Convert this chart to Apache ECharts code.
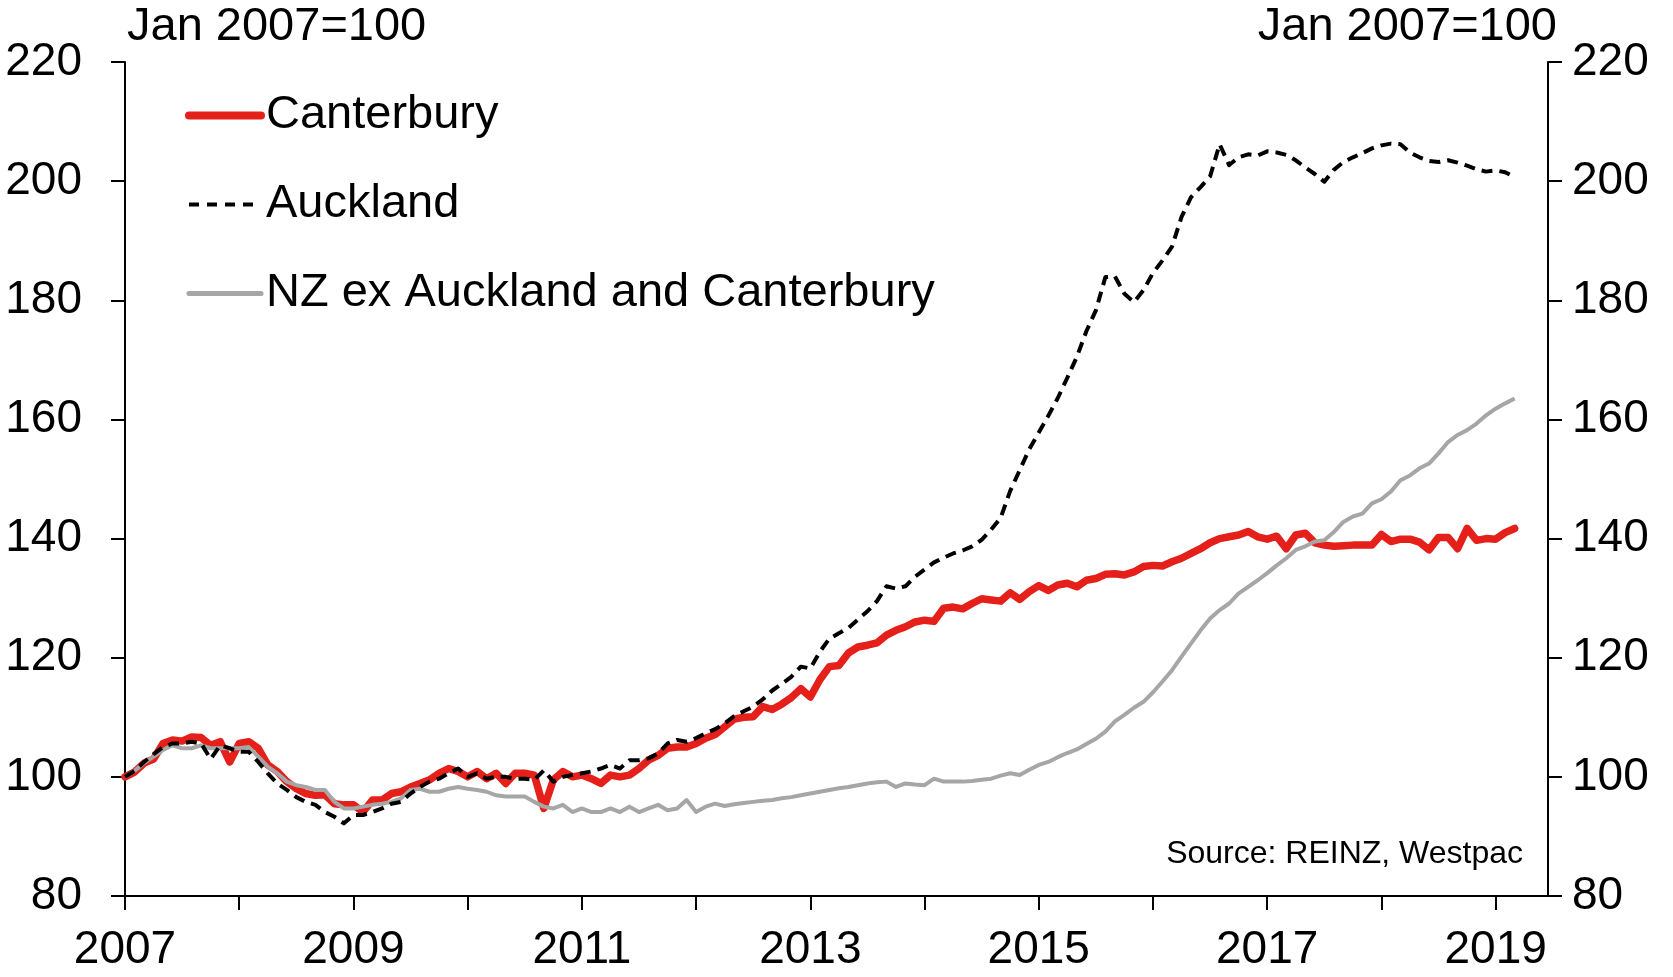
<!DOCTYPE html>
<html>
<head>
<meta charset="utf-8">
<script src="https://cdn.jsdelivr.net/npm/echarts@6.0.0/dist/echarts.min.js"></script>
<style>
  html, body { margin: 0; padding: 0; background: #fff; }
  #chart { width: 1673px; height: 977px; }
</style>
</head>
<body>
<div id="chart"></div>
<script>
// Monthly index values, Jan 2007 = 100, Jan 2007 .. Mar 2019
const startYear = 2007;
const canterbury = [100,100.8,102.3,103,105.6,106.2,106,106.7,106.6,105.3,
105.9,102.5,105.6,105.9,104.8,102,100.9,99.2,98,97.2,
96.9,97,95.5,95.3,95.3,94.1,96.1,96.1,97.2,97.5,
98.3,98.9,99.5,100.6,101.4,100.9,100,100.9,99.7,100.6,
98.9,100.6,100.6,100.3,94.7,99.5,100.9,100,100.3,99.7,
98.9,100.3,100,100.3,101.4,102.8,103.6,104.8,105,105,
105.6,106.5,107.1,108.4,109.7,110,110.1,111.8,111.3,112.2,
113.3,114.8,113.4,116.3,118.5,118.7,120.8,121.8,122.1,122.5,
123.8,124.6,125.2,126,126.3,126.1,128.3,128.5,128.2,129.1,
129.9,129.7,129.5,130.9,129.8,131.1,132.1,131.3,132.2,132.5,
131.9,133,133.3,134,134.1,133.9,134.4,135.3,135.5,135.4,
136.1,136.7,137.5,138.3,139.3,140,140.3,140.6,141.2,140.3,
139.9,140.4,138.3,140.6,140.9,139.3,138.9,138.7,138.8,138.9,
138.9,138.9,140.7,139.5,139.9,139.9,139.4,138.1,140.2,140.2,
138.3,141.7,139.7,140,139.9,141,141.7];

const auckland = [100,101,102.5,103.8,105,105.6,105.6,105.9,105.6,103,
105.3,104.8,104.2,104.2,102.5,100.6,98.9,97.8,96.6,95.8,
95.3,94.1,93.3,92.2,93.6,93.6,94.1,94.7,95.5,95.8,
97.2,98.3,99.2,99.7,100.6,101.4,100,100.6,99.7,100,
100,99.7,99.7,99.5,101.1,99.2,100,100.3,100.6,100.9,
101.4,102,101.4,102.8,102.8,103.1,103.9,105.6,106.2,105.9,
106.5,107.3,108,109,110.2,111,111.8,113,114.5,115.6,
116.8,118.5,118.2,121,123.2,124.1,125,126.4,127.8,129.5,
132,131.6,132,133.6,134.8,136,136.8,137.5,138,138.7,
139.8,141.5,143.5,148,151.5,155,157.8,160.6,163.6,167,
170.5,174.8,178.3,183.9,184,181.1,179.7,181.7,184.6,186.7,
189,194,197.3,199,200.8,206.2,202.7,204,204.5,204.3,
205,204.8,204.4,203.5,202.3,201.2,199.9,201.9,203.2,204,
204.7,205.5,206,206.3,206.2,204.8,204,203.4,203.2,203.5,
203.1,202.6,202,201.6,201.8,201.5,200.7];

const nzExAklCant = [100,101,102.3,103.4,104.5,105.3,104.8,104.8,105.3,104.8,
104.8,104.8,104.8,105,103.4,101.7,100.6,99.2,98.6,98.3,
97.8,97.8,95.8,94.7,94.7,95,95.3,95.5,95.8,96.4,
97.8,98,97.5,97.5,98,98.3,98,97.8,97.5,96.9,
96.7,96.7,96.7,95.8,95,94.7,95.3,94.1,94.7,94.1,
94.1,94.7,94.1,95,94.1,94.7,95.3,94.4,94.7,96.1,
94.1,95,95.5,95.1,95.4,95.6,95.8,96,96.1,96.4,
96.6,96.9,97.2,97.5,97.8,98.1,98.3,98.6,98.9,99.1,
99.2,98.3,98.9,98.7,98.6,99.7,99.2,99.2,99.2,99.3,
99.5,99.7,100.2,100.6,100.3,101.2,102,102.5,103.3,104,
104.6,105.5,106.4,107.6,109.3,110.4,111.6,112.6,114.2,116,
117.9,120.2,122.4,124.6,126.6,128,129.1,130.8,131.9,133,
134.2,135.5,136.7,138.1,138.7,139.5,139.7,141.1,142.8,143.7,
144.2,145.9,146.6,147.9,149.8,150.6,151.8,152.6,154.3,156.2,
157.4,158.2,159.3,160.7,161.8,162.7,163.5];

const seriesNames = ['Canterbury', 'Auckland', 'NZ ex Auckland and Canterbury'];
const xTickYears = [2007,2008,2009,2010,2011,2012,2013,2014,2015,2016,2017,2018,2019];
const xLabelYears = [2007,2009,2011,2013,2015,2017,2019];
const yTicks = [80,100,120,140,160,180,200,220];
const unitTitle = 'Jan 2007=100';
const sourceText = 'Source: REINZ, Westpac';

const toPairs = arr => arr.map((v, i) => [startYear + i / 12, v]);

const RED = '#E5201A', GREY = '#A6A6A6', BLACK = '#000';
const FONT = '"Liberation Sans", Arial, sans-serif';
const chart = echarts.init(document.getElementById('chart'), null, { renderer: 'canvas' });

const yAxisCommon = {
  type: 'value', min: yTicks[0], max: yTicks[yTicks.length - 1], interval: 20,
  axisLine: { show: true, lineStyle: { color: '#000', width: 2 } },
  axisTick: { show: true, inside: false, length: 14, lineStyle: { color: '#000', width: 2 } },
  splitLine: { show: false },
  axisLabel: { color: '#000', fontSize: 46, fontFamily: FONT, lineHeight: 46 }
};

chart.setOption({
  animation: false,
  backgroundColor: '#fff',
  textStyle: { fontFamily: FONT },
  grid: { left: 125, right: 125, top: 62, bottom: 81, containLabel: false, outerBoundsMode: 'none' },
  title: [
    { text: unitTitle, left: 127, top: 4, padding: 0,
      textStyle: { fontSize: 47, fontWeight: 'normal', color: '#000', fontFamily: FONT, lineHeight: 47 } },
    { text: unitTitle, right: 116, top: 4, padding: 0,
      textStyle: { fontSize: 47, fontWeight: 'normal', color: '#000', fontFamily: FONT, lineHeight: 47 } }
  ],
  legend: {
    orient: 'vertical', left: 185, top: 92, padding: 0, itemGap: 42,
    itemWidth: 72, itemHeight: 10,
    data: [
      { name: seriesNames[0], itemStyle: { opacity: 0 }, lineStyle: { color: RED, width: 8, cap: 'round' } },
      { name: seriesNames[1], itemStyle: { opacity: 0 }, lineStyle: { color: BLACK, width: 4, type: [10, 8] } },
      { name: seriesNames[2], itemStyle: { opacity: 0 }, lineStyle: { color: GREY, width: 5, cap: 'round' } }
    ],
    textStyle: { fontSize: 47, color: '#000', fontFamily: FONT, lineHeight: 47 },
    selectedMode: false
  },
  xAxis: {
    type: 'value', min: startYear, max: 2019 + 5.5 / 12,
    axisLine: { show: true, onZero: false, lineStyle: { color: '#000', width: 2 } },
    axisTick: { show: true, length: 14, customValues: xTickYears, lineStyle: { color: '#000', width: 2 } },
    splitLine: { show: false },
    axisLabel: { color: '#000', fontSize: 46, fontFamily: FONT, lineHeight: 46, margin: 31,
      customValues: xLabelYears, formatter: v => String(Math.round(v)) }
  },
  yAxis: [
    Object.assign({}, yAxisCommon, { position: 'left', axisLabel: Object.assign({}, yAxisCommon.axisLabel, { margin: 43 }) }),
    Object.assign({}, yAxisCommon, { position: 'right', axisLabel: Object.assign({}, yAxisCommon.axisLabel, { margin: 24 }) })
  ],
  graphic: [{
    type: 'text', right: 150, top: 838, z: 10,
    style: { text: sourceText, fontSize: 32, fontFamily: FONT, fill: '#000', textAlign: 'right' }
  }],
  series: [
    { name: seriesNames[0], type: 'line', data: toPairs(canterbury), symbol: 'none', showSymbol: false, z: 2,
      lineStyle: { color: RED, width: 7.5, join: 'round', cap: 'round' }, itemStyle: { color: RED } },
    { name: seriesNames[2], type: 'line', data: toPairs(nzExAklCant), symbol: 'none', showSymbol: false, z: 3,
      lineStyle: { color: GREY, width: 4, join: 'round' }, itemStyle: { color: GREY } },
    { name: seriesNames[1], type: 'line', data: toPairs(auckland), symbol: 'none', showSymbol: false, z: 4,
      lineStyle: { color: BLACK, width: 4, type: [11, 7], join: 'round' }, itemStyle: { color: BLACK } }
  ]
});
</script>
</body>
</html>
